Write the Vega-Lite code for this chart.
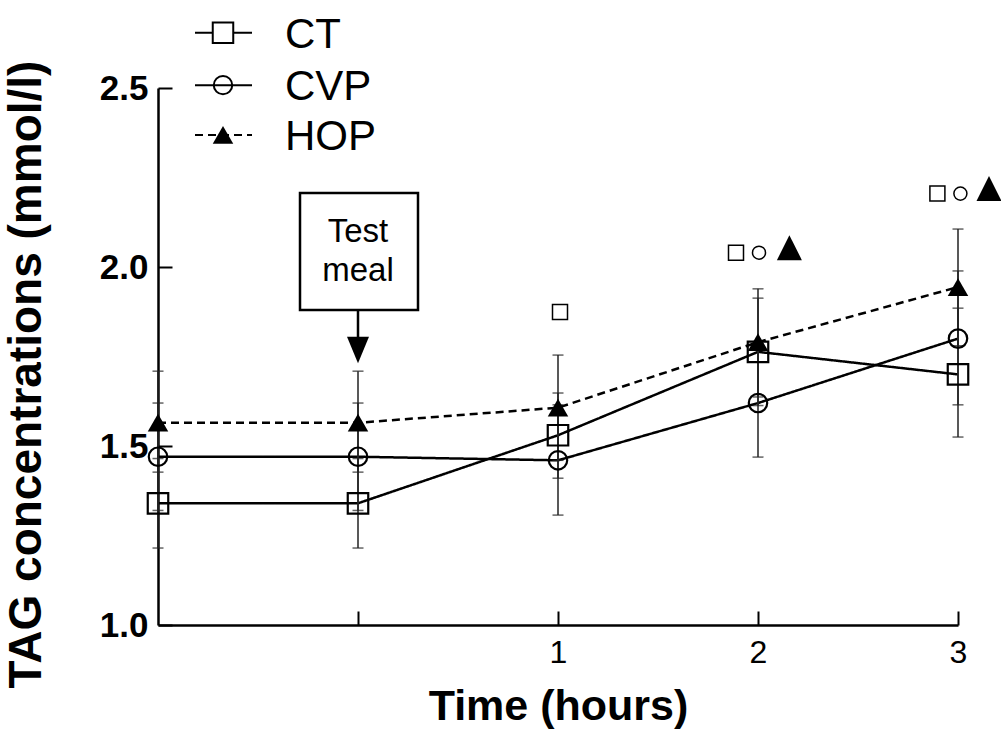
{
  "$schema": "https://vega.github.io/schema/vega-lite/v6.json",
  "width": 800,
  "height": 537,
  "autosize": "none",
  "padding": {"left": 158, "top": 88, "right": 43, "bottom": 124},
  "background": "white",
  "config": {"view": {"stroke": null}, "font": "Liberation Sans"},
  "datasets": {
    "main": [
      {"group": "CT", "time": -1, "v": 1.34, "lo": 1.215, "hi": 1.465},
      {"group": "CT", "time": 0, "v": 1.34, "lo": 1.215, "hi": 1.465},
      {"group": "CT", "time": 1, "v": 1.53, "lo": 1.41, "hi": 1.648},
      {"group": "CT", "time": 2, "v": 1.763, "lo": 1.613, "hi": 1.913},
      {"group": "CT", "time": 3, "v": 1.7, "lo": 1.525, "hi": 1.885},
      {"group": "CVP", "time": -1, "v": 1.47, "lo": 1.32, "hi": 1.62},
      {"group": "CVP", "time": 0, "v": 1.47, "lo": 1.32, "hi": 1.62},
      {"group": "CVP", "time": 1, "v": 1.46, "lo": 1.307, "hi": 1.615},
      {"group": "CVP", "time": 2, "v": 1.62, "lo": 1.469, "hi": 1.77},
      {"group": "CVP", "time": 3, "v": 1.8, "lo": 1.615, "hi": 1.989},
      {"group": "HOP", "time": -1, "v": 1.565, "lo": 1.427, "hi": 1.709},
      {"group": "HOP", "time": 0, "v": 1.565, "lo": 1.427, "hi": 1.709},
      {"group": "HOP", "time": 1, "v": 1.607, "lo": 1.46, "hi": 1.754},
      {"group": "HOP", "time": 2, "v": 1.79, "lo": 1.637, "hi": 1.939},
      {"group": "HOP", "time": 3, "v": 1.944, "lo": 1.78, "hi": 2.106}
    ],
    "ann": [
      {"time": 1.01, "v": 1.874, "sym": "square"},
      {"time": 1.89, "v": 2.04, "sym": "square"},
      {"time": 2.005, "v": 2.04, "sym": "circle"},
      {"time": 2.157, "v": 2.054, "sym": "triangle"},
      {"time": 2.897, "v": 2.205, "sym": "square"},
      {"time": 3.012, "v": 2.205, "sym": "circle"},
      {"time": 3.155, "v": 2.219, "sym": "triangle"}
    ],
    "legline": [
      {"group": "CT", "time": -0.815, "v": 2.654},
      {"group": "CT", "time": -0.53, "v": 2.654},
      {"group": "CVP", "time": -0.815, "v": 2.508},
      {"group": "CVP", "time": -0.53, "v": 2.508},
      {"group": "HOP", "time": -0.815, "v": 2.369},
      {"group": "HOP", "time": -0.53, "v": 2.369}
    ],
    "legsym": [
      {"group": "CT", "time": -0.675, "v": 2.654, "tx": -0.365},
      {"group": "CVP", "time": -0.675, "v": 2.508, "tx": -0.365},
      {"group": "HOP", "time": -0.675, "v": 2.369, "tx": -0.365}
    ],
    "box": [
      {"x1": -0.29, "x2": 0.3, "y1": 1.88, "y2": 2.207}
    ],
    "boxtext": [
      {"time": 0, "v": 2.098, "label": "Test"},
      {"time": 0, "v": 1.99, "label": "meal"}
    ],
    "arrow": [
      {"time": 0, "v": 1.88, "v2": 1.79, "tip": 1.768}
    ]
  },
  "layer": [
    {
      "data": {"name": "main"},
      "mark": {"type": "line", "color": "black", "strokeWidth": 2.5},
      "encoding": {
        "x": {
          "field": "time", "type": "quantitative",
          "scale": {"domain": [-1, 3], "nice": false, "zero": false},
          "axis": {
            "values": [0, 1, 2, 3],
            "labelExpr": "datum.value >= 1 ? format(datum.value, 'd') : ''",
            "labelFlush": false,
            "title": "Time (hours)",
            "grid": false,
            "domainColor": "black", "domainWidth": 2.5,
            "tickColor": "black", "tickWidth": 2, "tickSize": -14,
            "labelFontSize": 32, "labelColor": "black", "labelPadding": 26,
            "labelFont": "Liberation Sans",
            "titleFontSize": 43, "titleFontWeight": "bold", "titleColor": "black",
            "titleX": 400, "titleY": 60, "titleBaseline": "top", "titleAlign": "center",
            "titleFont": "Liberation Sans"
          }
        },
        "y": {
          "field": "v", "type": "quantitative",
          "scale": {"domain": [1, 2.5], "nice": false, "zero": false},
          "axis": {
            "values": [1, 1.5, 2, 2.5],
            "format": ".1f",
            "labelFlush": false,
            "title": "TAG concentrations (mmol/l)",
            "grid": false,
            "domainColor": "black", "domainWidth": 2.5,
            "tickColor": "black", "tickWidth": 2, "tickSize": -14,
            "labelFontSize": 35, "labelFontWeight": "bold", "labelColor": "black", "labelPadding": 24,
            "labelFont": "Liberation Sans",
            "titleFontSize": 46, "titleFontWeight": "bold", "titleColor": "black",
            "titleX": -108, "titleY": 286, "titleAlign": "center", "titleAngle": -90, "titleBaseline": "bottom",
            "titleFont": "Liberation Sans"
          }
        },
        "detail": {"field": "group"},
        "strokeDash": {
          "field": "group", "type": "nominal",
          "scale": {"domain": ["CT", "CVP", "HOP"], "range": [[1, 0], [1, 0], [8, 5]]},
          "legend": null
        }
      }
    },
    {
      "data": {"name": "main"},
      "mark": {"type": "rule", "color": "#222", "strokeWidth": 1.5},
      "encoding": {
        "x": {"field": "time", "type": "quantitative"},
        "y": {"field": "lo", "type": "quantitative"},
        "y2": {"field": "hi"}
      }
    },
    {
      "data": {"name": "main"},
      "mark": {"type": "tick", "orient": "horizontal", "color": "#222", "size": 11, "thickness": 1.5},
      "encoding": {
        "x": {"field": "time", "type": "quantitative"},
        "y": {"field": "lo", "type": "quantitative"}
      }
    },
    {
      "data": {"name": "main"},
      "mark": {"type": "tick", "orient": "horizontal", "color": "#222", "size": 11, "thickness": 1.5},
      "encoding": {
        "x": {"field": "time", "type": "quantitative"},
        "y": {"field": "hi", "type": "quantitative"}
      }
    },
    {
      "data": {"name": "main"},
      "transform": [{"filter": "datum.group === 'CT'"}],
      "mark": {"type": "point", "shape": "square", "filled": false, "color": "black", "strokeWidth": 2.2, "size": 420, "opacity": 1},
      "encoding": {
        "x": {"field": "time", "type": "quantitative"},
        "y": {"field": "v", "type": "quantitative"}
      }
    },
    {
      "data": {"name": "main"},
      "transform": [{"filter": "datum.group === 'CVP'"}],
      "mark": {"type": "point", "shape": "circle", "filled": false, "color": "black", "strokeWidth": 2.2, "size": 340, "opacity": 1},
      "encoding": {
        "x": {"field": "time", "type": "quantitative"},
        "y": {"field": "v", "type": "quantitative"}
      }
    },
    {
      "data": {"name": "main"},
      "transform": [{"filter": "datum.group === 'HOP'"}],
      "mark": {"type": "point", "shape": "triangle-up", "filled": true, "color": "black", "size": 420, "opacity": 1},
      "encoding": {
        "x": {"field": "time", "type": "quantitative"},
        "y": {"field": "v", "type": "quantitative"}
      }
    },
    {
      "data": {"name": "ann"},
      "transform": [{"filter": "datum.sym === 'square'"}],
      "mark": {"type": "point", "shape": "square", "filled": false, "color": "black", "strokeWidth": 1.5, "size": 225, "opacity": 1},
      "encoding": {
        "x": {"field": "time", "type": "quantitative"},
        "y": {"field": "v", "type": "quantitative"}
      }
    },
    {
      "data": {"name": "ann"},
      "transform": [{"filter": "datum.sym === 'circle'"}],
      "mark": {"type": "point", "shape": "circle", "filled": false, "color": "black", "strokeWidth": 1.5, "size": 170, "opacity": 1},
      "encoding": {
        "x": {"field": "time", "type": "quantitative"},
        "y": {"field": "v", "type": "quantitative"}
      }
    },
    {
      "data": {"name": "ann"},
      "transform": [{"filter": "datum.sym === 'triangle'"}],
      "mark": {"type": "point", "shape": "M0,-1L1,1L-1,1Z", "filled": true, "color": "black", "size": 625, "opacity": 1},
      "encoding": {
        "x": {"field": "time", "type": "quantitative"},
        "y": {"field": "v", "type": "quantitative"}
      }
    },
    {
      "data": {"name": "legline"},
      "mark": {"type": "line", "color": "black", "strokeWidth": 2},
      "encoding": {
        "x": {"field": "time", "type": "quantitative"},
        "y": {"field": "v", "type": "quantitative"},
        "detail": {"field": "group"},
        "strokeDash": {"field": "group", "type": "nominal", "legend": null}
      }
    },
    {
      "data": {"name": "legsym"},
      "transform": [{"filter": "datum.group === 'CT'"}],
      "mark": {"type": "point", "shape": "square", "filled": false, "fill": "white", "fillOpacity": 1, "color": "black", "strokeWidth": 2, "size": 420, "opacity": 1},
      "encoding": {
        "x": {"field": "time", "type": "quantitative"},
        "y": {"field": "v", "type": "quantitative"}
      }
    },
    {
      "data": {"name": "legsym"},
      "transform": [{"filter": "datum.group === 'CVP'"}],
      "mark": {"type": "point", "shape": "circle", "filled": false, "color": "black", "strokeWidth": 2, "size": 340, "opacity": 1},
      "encoding": {
        "x": {"field": "time", "type": "quantitative"},
        "y": {"field": "v", "type": "quantitative"}
      }
    },
    {
      "data": {"name": "legsym"},
      "transform": [{"filter": "datum.group === 'HOP'"}],
      "mark": {"type": "point", "shape": "triangle-up", "filled": true, "color": "black", "size": 420, "opacity": 1},
      "encoding": {
        "x": {"field": "time", "type": "quantitative"},
        "y": {"field": "v", "type": "quantitative"}
      }
    },
    {
      "data": {"name": "legsym"},
      "mark": {"type": "text", "align": "left", "baseline": "middle", "fontSize": 42, "font": "Liberation Sans", "color": "black", "dy": 2},
      "encoding": {
        "x": {"field": "tx", "type": "quantitative"},
        "y": {"field": "v", "type": "quantitative"},
        "text": {"field": "group"}
      }
    },
    {
      "data": {"name": "box"},
      "mark": {"type": "rect", "fill": "white", "stroke": "black", "strokeWidth": 2.5},
      "encoding": {
        "x": {"field": "x1", "type": "quantitative"},
        "x2": {"field": "x2"},
        "y": {"field": "y1", "type": "quantitative"},
        "y2": {"field": "y2"}
      }
    },
    {
      "data": {"name": "boxtext"},
      "mark": {"type": "text", "align": "center", "baseline": "middle", "fontSize": 33, "font": "Liberation Sans", "color": "black"},
      "encoding": {
        "x": {"field": "time", "type": "quantitative"},
        "y": {"field": "v", "type": "quantitative"},
        "text": {"field": "label"}
      }
    },
    {
      "data": {"name": "arrow"},
      "mark": {"type": "rule", "color": "black", "strokeWidth": 2.5},
      "encoding": {
        "x": {"field": "time", "type": "quantitative"},
        "y": {"field": "v", "type": "quantitative"},
        "y2": {"field": "v2"}
      }
    },
    {
      "data": {"name": "arrow"},
      "mark": {"type": "point", "shape": "M-1,-1.2L1,-1.2L0,1.2Z", "filled": true, "color": "black", "size": 484, "opacity": 1},
      "encoding": {
        "x": {"field": "time", "type": "quantitative"},
        "y": {"field": "tip", "type": "quantitative"}
      }
    }
  ]
}
